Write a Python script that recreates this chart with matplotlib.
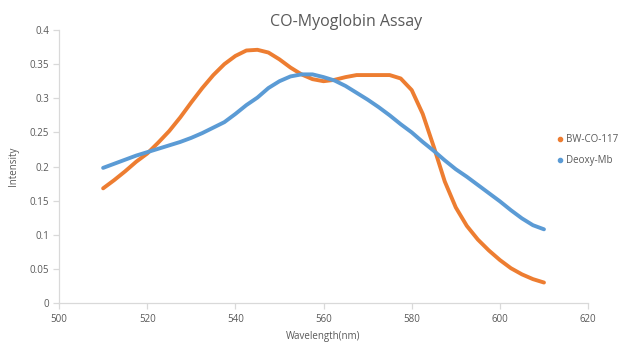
import matplotlib
matplotlib.use("Agg")
import matplotlib.pyplot as plt
from matplotlib.lines import Line2D
from matplotlib.ticker import FixedLocator

# ------------------------------------------------------------------
#  DATA
# ------------------------------------------------------------------
wavelength = [510, 512.5, 515, 517.5, 520, 522.5, 525, 527.5, 530, 532.5,
              535, 537.5, 540, 542.5, 545, 547.5, 550, 552.5, 555, 557.5,
              560, 562.5, 565, 567.5, 570, 572.5, 575, 577.5, 580, 582.5,
              585, 587.5, 590, 592.5, 595, 597.5, 600, 602.5, 605, 607.5, 610]

bw_co_117 = [0.168, 0.180, 0.193, 0.207, 0.219, 0.235, 0.252, 0.272, 0.294, 0.315,
             0.334, 0.350, 0.362, 0.370, 0.371, 0.367, 0.357, 0.345, 0.335, 0.328,
             0.325, 0.327, 0.331, 0.334, 0.334, 0.334, 0.334, 0.329, 0.312, 0.277,
             0.229, 0.178, 0.140, 0.113, 0.093, 0.077, 0.063, 0.051, 0.042, 0.035, 0.030]

deoxy_mb = [0.198, 0.204, 0.210, 0.216, 0.221, 0.226, 0.231, 0.236, 0.242, 0.249,
            0.257, 0.265, 0.277, 0.290, 0.301, 0.315, 0.325, 0.332, 0.335, 0.335,
            0.331, 0.326, 0.318, 0.308, 0.298, 0.287, 0.275, 0.262, 0.250, 0.236,
            0.223, 0.209, 0.196, 0.185, 0.173, 0.161, 0.149, 0.136, 0.124, 0.114, 0.108]

x_ticks = [500, 520, 540, 560, 580, 600, 620]
y_ticks = [0, 0.05, 0.1, 0.15, 0.2, 0.25, 0.3, 0.35, 0.4]
y_tick_labels = ['0', '0.05', '0.1', '0.15', '0.2', '0.25', '0.3', '0.35', '0.4']
series_names = ['BW-CO-117', 'Deoxy-Mb']

# ------------------------------------------------------------------
#  PLOT
# ------------------------------------------------------------------
plt.rcParams['font.family'] = ['Open Sans', 'DejaVu Sans']

orange = '#ED7D31'
blue   = '#5B9BD5'
grey   = '#595959'
axis_c = '#D9D9D9'

fig = plt.figure(figsize=(6.24, 3.45), dpi=100)
ax  = fig.add_axes([0.0946, 0.1217, 0.8478, 0.7913])

ax.plot(wavelength, bw_co_117, color=orange, linewidth=2.8, solid_capstyle='round',
        solid_joinstyle='round')
ax.plot(wavelength, deoxy_mb, color=blue, linewidth=2.8, solid_capstyle='round',
        solid_joinstyle='round')

ax.set_xlim(500, 620)
ax.set_ylim(0, 0.4)
ax.xaxis.set_major_locator(FixedLocator(x_ticks))
ax.set_yticks(y_ticks)
ax.set_yticklabels(y_tick_labels)

for side in ['top', 'right']:
    ax.spines[side].set_visible(False)
for side in ['left', 'bottom']:
    ax.spines[side].set_color(axis_c)
    ax.spines[side].set_linewidth(0.9)

ax.tick_params(axis='both', colors=axis_c, labelcolor=grey, labelsize=7, length=4,
               width=0.9, direction='out')
ax.tick_params(axis='x', pad=4)
ax.tick_params(axis='y', pad=3)

ax.set_xlabel('Wavelength(nm)', fontsize=7, color=grey, labelpad=4)
ax.set_ylabel('Intensity', fontsize=7, color=grey, labelpad=8)

fig.text(0.555, 0.935, 'CO-Myoglobin Assay', fontsize=11.5, color=grey,
         ha='center', va='center')

# legend with small dot markers, Excel style
handles = [Line2D([], [], linestyle='none', marker='o', markersize=3,
                  color=c) for c in [orange, blue]]
fig.legend(handles, series_names, loc='center left', bbox_to_anchor=(0.895, 0.565),
           frameon=False, fontsize=7, handlelength=0.4, handletextpad=0.4,
           labelspacing=1.0, labelcolor=grey, borderaxespad=0, borderpad=0)

fig.savefig('out.png', dpi=100)
